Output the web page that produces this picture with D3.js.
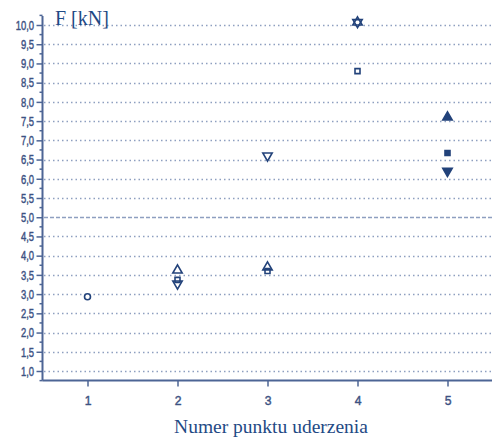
<!DOCTYPE html>
<html>
<head>
<meta charset="utf-8">
<script src="https://cdn.jsdelivr.net/npm/d3@7"></script>
<style>
body { margin: 0; background: #fff; }
.serif { font-family: "Times New Roman", Times, "Liberation Serif", "DejaVu Serif", serif; }
</style>
</head>
<body>
<svg id="chart" width="495" height="437"></svg>
<script>
// punkty uderzenia
var points = [1, 2, 3, 4, 5];
var yTicks = [1, 1.5, 2, 2.5, 3, 3.5, 4, 4.5, 5, 5.5, 6, 6.5, 7, 7.5, 8, 8.5, 9, 9.5, 10];
// series values: [punkt, F]
var circleVals = [[1, 2.93]];
var upVals = [[2, 3.62], [3, 3.7], [4, 10.07], [5, 7.6]];
var squareVals = [[2, 3.37], [3, 3.6], [4, 8.8], [5, 6.67]];
var downVals = [[2, 3.27], [3, 6.6], [4, 10.07], [5, 6.2]];
var filledPoint = 5;

var svg = d3.select("#chart");
var col = "#22427a", axisCol = "#4d6595", gridCol = "#8e9fc0";
var squeeze = 0.7; // labels in the original are condensed

var x = d3.scaleLinear().domain([0.5, 5.5]).range([42.5, 492.5]);
var y = d3.scaleLinear().domain([1, 10]).range([371, 25]);
var yBottom = y(0.75), yTop = 16;

// grid
svg.append("g").selectAll("line")
    .data(yTicks)
    .enter().append("line")
    .attr("x1", 44).attr("x2", 492)
    .attr("y1", function(d) { return Math.round(y(d)) + 0.5; })
    .attr("y2", function(d) { return Math.round(y(d)) + 0.5; })
    .attr("stroke", gridCol)
    .attr("stroke-width", 1.5)
    .attr("stroke-dasharray", function(d) { return d == 5 ? "4,2" : "1.5,3"; });

// y axis
var yAxis = d3.axisLeft(y).tickValues(yTicks).tickSize(6).tickPadding(3)
    .tickFormat(function(d) { return d3.format(".1f")(d).replace(".", ","); });
var gy = svg.append("g").attr("transform", "translate(42.5,0)").call(yAxis);
gy.select(".domain").remove();
gy.append("line").attr("x1", 0).attr("x2", 0).attr("y1", yTop).attr("y2", yBottom)
    .attr("stroke", axisCol).attr("stroke-width", 2);
// minor ticks
gy.selectAll(".minor").data(d3.range(0.75, 10.26, 0.5))
    .enter().append("line").attr("class", "minor")
    .attr("x1", -3).attr("x2", 0)
    .attr("y1", function(d) { return y(d); }).attr("y2", function(d) { return y(d); })
    .attr("stroke", axisCol).attr("stroke-width", 1.5);

// x axis
var xAxis = d3.axisBottom(x).tickValues(points).tickSize(6).tickPadding(9).tickFormat(d3.format("d"));
var gx = svg.append("g").attr("transform", "translate(0," + yBottom + ")").call(xAxis);
gx.select(".domain").remove();
gx.append("line").attr("x1", 42.5).attr("x2", 492).attr("y1", 0).attr("y2", 0)
    .attr("stroke", axisCol).attr("stroke-width", 2);

svg.selectAll(".tick line").attr("stroke", axisCol).attr("stroke-width", 1.5);
svg.selectAll(".tick text")
    .attr("fill", "#3d5283")
    .attr("stroke", "#3d5283")
    .attr("stroke-width", 0.45)
    .attr("font-family", "Arial, 'Liberation Sans', sans-serif")
    .attr("font-size", "13.5px");
gy.selectAll(".tick text")
    .attr("x", -8.5 / squeeze)
    .attr("transform", "scale(" + squeeze + ",1)");
gx.selectAll(".tick text")
    .attr("transform", "scale(0.9,1)");

// markers
function drawSeries(data, type, size) {
    svg.append("g").selectAll("path")
        .data(data)
        .enter().append("path")
        .attr("transform", function(d) {
            var r = type == "down" ? 180 : 0;
            return "translate(" + x(d[0]) + "," + y(d[1]) + ") rotate(" + r + ")";
        })
        .attr("d", d3.symbol().type(type == "square" ? d3.symbolSquare :
            type == "circle" ? d3.symbolCircle : d3.symbolTriangle).size(size))
        .attr("fill", function(d) { return d[0] == filledPoint ? col : "#fff"; })
        .attr("fill-opacity", function(d) { return d[0] == filledPoint ? 1 : 0; })
        .attr("stroke", col)
        .attr("stroke-width", 1.6);
}
drawSeries(circleVals, "circle", 28);
drawSeries(squareVals, "square", 25);
drawSeries(upVals, "up", 38);
drawSeries(downVals, "down", 38);

// axis titles
svg.append("text").attr("class", "serif").attr("x", 55).attr("y", 25)
    .attr("fill", "#1f4a85")
    .attr("font-size", "20px")
    .text("F [kN]");
svg.append("text").attr("class", "serif").attr("x", 271).attr("y", 433)
    .attr("text-anchor", "middle")
    .attr("fill", "#1f4a85")
    .attr("font-size", "19.5px")
    .text("Numer punktu uderzenia");
</script>
</body>
</html>
